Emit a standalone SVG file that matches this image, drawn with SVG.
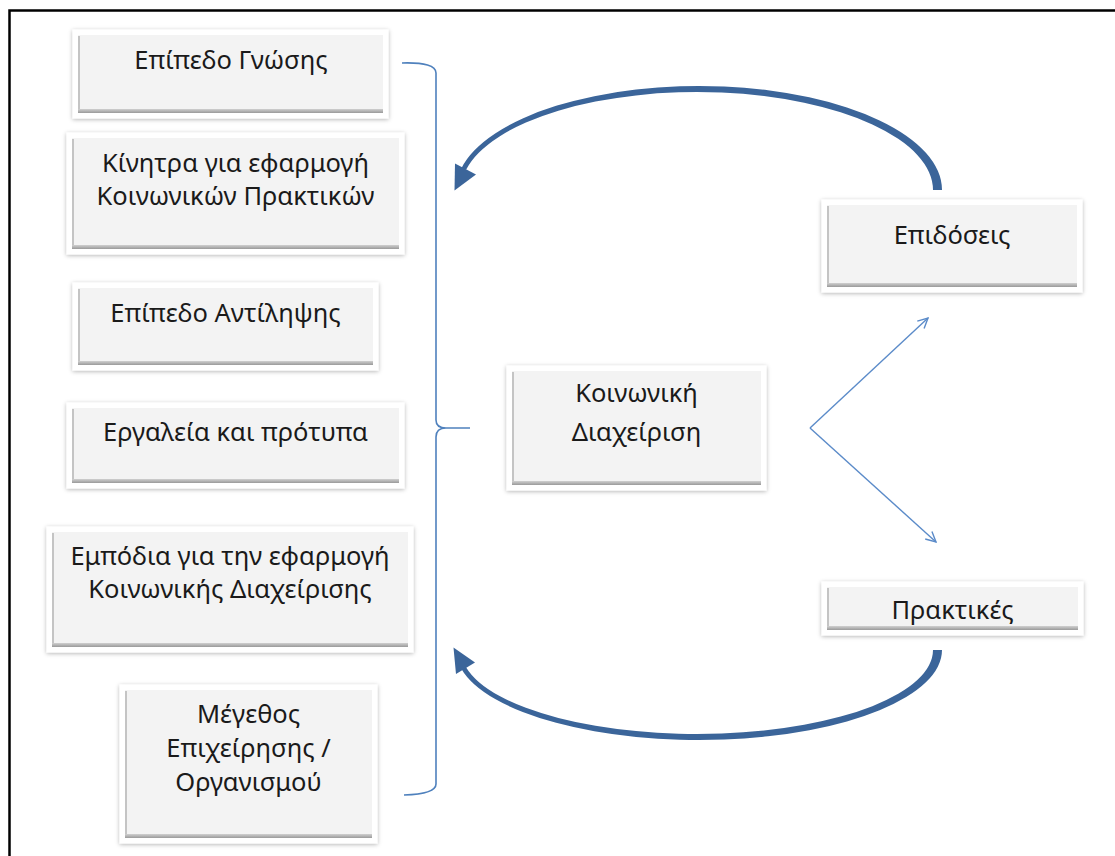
<svg xmlns="http://www.w3.org/2000/svg" width="1115" height="856" viewBox="0 0 1115 856">
  <defs>
    <filter id="softShadow" x="-10%" y="-10%" width="120%" height="125%">
      <feDropShadow dx="0" dy="1" stdDeviation="2" flood-color="#000" flood-opacity="0.3"/>
    </filter>
    <linearGradient id="bottomEdge" x1="0" y1="0" x2="0" y2="1">
      <stop offset="0" stop-color="#d0d0d0"/>
      <stop offset="1" stop-color="#9a9a9a"/>
    </linearGradient>
    <marker id="openHead" viewBox="0 0 12 12" refX="11" refY="6" markerWidth="12" markerHeight="12" markerUnits="userSpaceOnUse" orient="auto">
      <path d="M1,1 L11,6 L1,11" fill="none" stroke="#5b8bc9" stroke-width="1.4"/>
    </marker>
  </defs>
  <style>
    .frame { fill: #fff; stroke: #fff; filter: url(#softShadow); }
    .face { fill: #f3f3f3; }
    .leftEdge { stroke: #c4c4c4; stroke-width: 2; }
    .bottomEdge { fill: url(#bottomEdge); }
    .label { font-family: "Noto Sans", "Open Sans", sans-serif; font-size: 25.5px; fill: #1a1a1a; text-anchor: middle; }
    .brace { fill: none; stroke: #4f81bd; stroke-width: 1.6; }
    .thin { fill: none; stroke: #5b8bc9; stroke-width: 1.4; marker-end: url(#openHead); }
    .cycle { fill: #3b659a; }
  </style>

  <rect width="1115" height="856" fill="#fff"/>
  <!-- page border -->
  <rect x="9.5" y="10.5" width="1200" height="900" fill="none" stroke="#000" stroke-width="2.5"/>

  <!-- factor boxes -->
  <g id="knowledge-level">
    <rect class="frame" x="73" y="30" width="315" height="88"/>
    <rect class="face" x="78" y="35" width="305" height="78"/>
    <line class="leftEdge" x1="79" y1="36" x2="79" y2="112"/>
    <rect class="bottomEdge" x="78" y="109" width="305" height="4"/>
    <text class="label" x="231" y="69">Επίπεδο Γνώσης</text>
  </g>

  <g id="incentives">
    <rect class="frame" x="67" y="133" width="337" height="121"/>
    <rect class="face" x="72" y="138" width="327" height="111"/>
    <line class="leftEdge" x1="73" y1="139" x2="73" y2="248"/>
    <rect class="bottomEdge" x="72" y="245" width="327" height="4"/>
    <text class="label" x="235.5" y="172">Κίνητρα για εφαρμογή</text>
    <text class="label" x="235.5" y="205">Κοινωνικών Πρακτικών</text>
  </g>

  <g id="perception-level">
    <rect class="frame" x="73" y="283" width="305" height="87"/>
    <rect class="face" x="78" y="288" width="295" height="77"/>
    <line class="leftEdge" x1="79" y1="289" x2="79" y2="364"/>
    <rect class="bottomEdge" x="78" y="361" width="295" height="4"/>
    <text class="label" x="225.5" y="322">Επίπεδο Αντίληψης</text>
  </g>

  <g id="tools-standards">
    <rect class="frame" x="67" y="403" width="337" height="85"/>
    <rect class="face" x="72" y="408" width="327" height="75"/>
    <line class="leftEdge" x1="73" y1="409" x2="73" y2="482"/>
    <rect class="bottomEdge" x="72" y="479" width="327" height="4"/>
    <text class="label" x="235.5" y="441">Εργαλεία και πρότυπα</text>
  </g>

  <g id="barriers">
    <rect class="frame" x="47" y="527" width="366" height="125"/>
    <rect class="face" x="52" y="532" width="356" height="115"/>
    <line class="leftEdge" x1="53" y1="533" x2="53" y2="646"/>
    <rect class="bottomEdge" x="52" y="643" width="356" height="4"/>
    <text class="label" x="230" y="565">Εμπόδια για την εφαρμογή</text>
    <text class="label" x="230" y="598">Κοινωνικής Διαχείρισης</text>
  </g>

  <g id="organisation-size">
    <rect class="frame" x="120" y="685" width="257" height="158"/>
    <rect class="face" x="125" y="690" width="247" height="148"/>
    <line class="leftEdge" x1="126" y1="691" x2="126" y2="837"/>
    <rect class="bottomEdge" x="125" y="834" width="247" height="4"/>
    <text class="label" x="248.5" y="723">Μέγεθος</text>
    <text class="label" x="248.5" y="757">Επιχείρησης /</text>
    <text class="label" x="248.5" y="791">Οργανισμού</text>
  </g>

  <!-- central and outcome boxes -->
  <g id="social-management">
    <rect class="frame" x="507" y="366" width="259" height="124"/>
    <rect class="face" x="512" y="371" width="249" height="114"/>
    <line class="leftEdge" x1="513" y1="372" x2="513" y2="484"/>
    <rect class="bottomEdge" x="512" y="481" width="249" height="4"/>
    <text class="label" x="636.5" y="402">Κοινωνική</text>
    <text class="label" x="636.5" y="441">Διαχείριση</text>
  </g>

  <g id="performance">
    <rect class="frame" x="822" y="200" width="260" height="92"/>
    <rect class="face" x="827" y="205" width="250" height="82"/>
    <line class="leftEdge" x1="828" y1="206" x2="828" y2="286"/>
    <rect class="bottomEdge" x="827" y="283" width="250" height="4"/>
    <text class="label" x="952" y="244">Επιδόσεις</text>
  </g>

  <g id="practices">
    <rect class="frame" x="822" y="582" width="261" height="53"/>
    <rect class="face" x="827" y="587" width="251" height="43"/>
    <line class="leftEdge" x1="828" y1="588" x2="828" y2="629"/>
    <rect class="bottomEdge" x="827" y="626" width="251" height="4"/>
    <text class="label" x="952.5" y="619">Πρακτικές</text>
  </g>

  <!-- connectors -->
  <g id="connectors">
    <!-- brace gathering the factors -->
    <path class="brace" d="M402,63 Q436,62 436,73 L436,420 Q436,428 446,428 L470,428 M446,428 Q436,428 436,437 L436,784 Q436,794 404,795"/>
    <!-- fork to the two outcomes -->
    <path class="thin" d="M810,428 L928,318"/>
    <path class="thin" d="M810,428 L936,542"/>
    <!-- feedback loop from performance -->
    <path class="cycle" d="M942,190 A243,104 0 0 0 461.3,168.4 L466.2,169.6 A236,98 0 0 1 933,190 Z"/>
    <polygon class="cycle" points="476,174.5 454.5,190.5 455,163.5"/>
    <!-- feedback loop from practices -->
    <path class="cycle" d="M942,650 A243,90 0 0 1 461.3,668.7 L466.2,667.5 A236,84 0 0 0 933,650 Z"/>
    <polygon class="cycle" points="475,662.5 453.5,647.5 456,674"/>
  </g>
</svg>
